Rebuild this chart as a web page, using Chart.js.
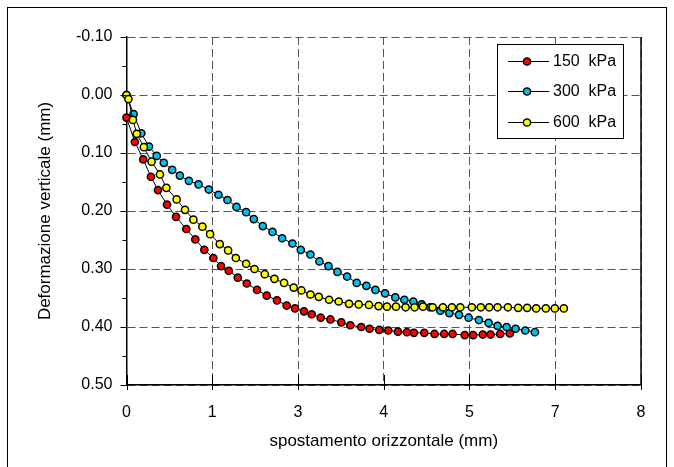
<!DOCTYPE html>
<html>
<head>
<meta charset="utf-8">
<script src="https://cdn.jsdelivr.net/npm/chart.js@4.4.0/dist/chart.umd.min.js"></script>
<style>
  html, body { margin: 0; padding: 0; background: #fff; }
  canvas { display: block; }
</style>
</head>
<body>
<canvas id="chart" width="674" height="467"></canvas>
<script>
// 150 kPa
const x150 = [0, 0.13, 0.26, 0.38, 0.49, 0.63, 0.77, 0.93, 1.07, 1.21, 1.35, 1.47, 1.59, 1.73, 1.87, 2.03, 2.18, 2.34, 2.49, 2.62,
    2.76, 2.88, 3.02, 3.17, 3.34, 3.48, 3.65, 3.78, 3.93, 4.07, 4.22, 4.36, 4.47, 4.63, 4.79, 4.94, 5.07, 5.26, 5.39, 5.54,
    5.66, 5.81, 5.96];
const y150 = [0.039, 0.081, 0.111, 0.141, 0.164, 0.189, 0.210, 0.231, 0.249, 0.267, 0.281, 0.295, 0.303, 0.315, 0.325, 0.336, 0.346, 0.354, 0.363, 0.368,
    0.373, 0.378, 0.384, 0.387, 0.392, 0.397, 0.400, 0.403, 0.405, 0.406, 0.408, 0.409, 0.410, 0.410, 0.412, 0.412, 0.412, 0.414, 0.414, 0.413,
    0.413, 0.412, 0.411];

// 300 kPa
const x300 = [0, 0.11, 0.23, 0.35, 0.47, 0.58, 0.71, 0.83, 0.97, 1.12, 1.28, 1.43, 1.57, 1.71, 1.86, 1.98, 2.12, 2.27, 2.42, 2.58,
    2.71, 2.86, 3.00, 3.14, 3.28, 3.43, 3.58, 3.73, 3.87, 4.02, 4.18, 4.32, 4.46, 4.59, 4.72, 4.88, 5.02, 5.17, 5.32, 5.48,
    5.63, 5.77, 5.91, 6.05, 6.20, 6.35];
const y300 = [0, 0.033, 0.066, 0.089, 0.105, 0.117, 0.129, 0.139, 0.148, 0.154, 0.163, 0.172, 0.181, 0.193, 0.202, 0.214, 0.226, 0.236, 0.247, 0.256,
    0.267, 0.275, 0.287, 0.295, 0.305, 0.313, 0.324, 0.329, 0.336, 0.342, 0.349, 0.353, 0.356, 0.361, 0.366, 0.372, 0.376, 0.379, 0.384, 0.388,
    0.393, 0.398, 0.400, 0.403, 0.406, 0.409];

// 600 kPa
const x600 = [0, 0.03, 0.10, 0.16, 0.27, 0.39, 0.52, 0.62, 0.78, 0.91, 1.04, 1.18, 1.30, 1.45, 1.58, 1.70, 1.86, 1.99, 2.15, 2.30,
    2.45, 2.60, 2.72, 2.86, 2.99, 3.15, 3.30, 3.46, 3.61, 3.77, 3.92, 4.05, 4.19, 4.34, 4.48, 4.61, 4.76, 4.92, 5.06, 5.19,
    5.37, 5.51, 5.64, 5.77, 5.93, 6.09, 6.23, 6.37, 6.52, 6.66, 6.80];
const y600 = [0, 0.007, 0.043, 0.067, 0.090, 0.115, 0.137, 0.160, 0.180, 0.198, 0.215, 0.227, 0.240, 0.257, 0.268, 0.281, 0.291, 0.300, 0.309, 0.317,
    0.324, 0.332, 0.337, 0.344, 0.348, 0.353, 0.356, 0.360, 0.361, 0.362, 0.364, 0.365, 0.365, 0.366, 0.366, 0.365, 0.366, 0.366, 0.366, 0.366,
    0.366, 0.366, 0.366, 0.366, 0.366, 0.367, 0.367, 0.368, 0.368, 0.368, 0.368];

const seriesLabels = ['150  kPa', '300  kPa', '600  kPa'];
const seriesColors = ['#ff0000', '#00c0ee', '#ffff00'];

const xTickValues = [0, 1.3333, 2.6667, 4, 5.3333, 6.6667, 8];
const xTickLabels = ['0', '1', '3', '4', '5', '7', '8'];
const yTickValues = [-0.1, 0, 0.1, 0.2, 0.3, 0.4, 0.5];

const FONT = 'Liberation Sans, Arial, sans-serif';

function toPoints(xs, ys) {
    return xs.map((x, i) => ({ x: x, y: ys[i] }));
}

const seriesData = [toPoints(x150, y150), toPoints(x300, y300), toPoints(x600, y600)];

const datasets = seriesData.map((data, i) => ({
    label: seriesLabels[i],
    data: data,
    showLine: true,
    borderColor: '#000',
    borderWidth: 1,
    pointRadius: 3.6,
    pointBorderWidth: 1.5,
    pointBorderColor: '#000',
    pointBackgroundColor: seriesColors[i],
    clip: false,
    order: 2 - i
}));

// frame, right border, tick marks and the boxed legend
const decorations = {
    id: 'decorations',
    afterDraw(chart) {
        const { ctx, chartArea: a, scales } = chart;
        const xs = scales.x, ys = scales.y;
        ctx.save();
        ctx.strokeStyle = '#000';

        // outer frame
        ctx.lineWidth = 1;
        ctx.strokeRect(7.5, 7.5, 659, 470);

        // solid right edge of plot
        ctx.lineWidth = 1.5;
        ctx.beginPath();
        ctx.moveTo(a.right, a.top);
        ctx.lineTo(a.right, a.bottom);
        ctx.stroke();

        // y ticks, major + minor
        ctx.lineWidth = 1;
        ctx.beginPath();
        for (let i = 0; i < yTickValues.length; i++) {
            const py = Math.round(ys.getPixelForValue(yTickValues[i])) + 0.5;
            ctx.moveTo(a.left - 6, py);
            ctx.lineTo(a.left, py);
            if (i < yTickValues.length - 1) {
                const my = Math.round(ys.getPixelForValue((yTickValues[i] + yTickValues[i + 1]) / 2)) + 0.5;
                ctx.moveTo(a.left - 4, my);
                ctx.lineTo(a.left, my);
            }
        }
        // x ticks crossing the axis
        xTickValues.forEach((v) => {
            const px = Math.round(xs.getPixelForValue(v)) + 0.5;
            ctx.moveTo(px, a.bottom - 10);
            ctx.lineTo(px, a.bottom + 5);
        });
        ctx.stroke();

        // legend
        const box = { left: 497.5, top: 44.5, width: 126, height: 94 };
        ctx.fillStyle = '#fff';
        ctx.fillRect(box.left, box.top, box.width, box.height);
        ctx.strokeRect(box.left, box.top, box.width, box.height);
        const rows = [61, 91, 122];
        ctx.font = '16px ' + FONT;
        ctx.textBaseline = 'middle';
        ctx.textAlign = 'left';
        seriesLabels.forEach((label, i) => {
            const y = rows[i] + 0.5;
            ctx.beginPath();
            ctx.moveTo(508, y);
            ctx.lineTo(549, y);
            ctx.lineWidth = 1;
            ctx.stroke();
            ctx.beginPath();
            ctx.arc(527, y, 3.6, 0, Math.PI * 2);
            ctx.fillStyle = seriesColors[i];
            ctx.fill();
            ctx.lineWidth = 1.5;
            ctx.stroke();
            ctx.fillStyle = '#000';
            ctx.fillText(label, 553, rows[i] + 1);
        });
        ctx.restore();
    }
};

new Chart(document.getElementById('chart'), {
    type: 'scatter',
    data: { datasets: datasets },
    options: {
        responsive: false,
        animation: false,
        events: [],
        layout: { padding: { top: 37, right: 33, left: 0, bottom: 0 } },
        plugins: {
            legend: { display: false },
            tooltip: { enabled: false }
        },
        scales: {
            x: {
                type: 'linear',
                min: 0,
                max: 8,
                afterBuildTicks: (scale) => { scale.ticks = xTickValues.map(v => ({ value: v })); },
                afterFit: (scale) => { scale.height = 82; },
                ticks: {
                    padding: 18,
                    color: '#000',
                    font: { family: FONT, size: 16 },
                    maxRotation: 0,
                    autoSkip: false,
                    callback: (v, i) => xTickLabels[i]
                },
                grid: { color: '#555', lineWidth: 1, drawTicks: false },
                border: { color: '#000', width: 1.5, dash: [8, 4] },
                title: {
                    display: true,
                    text: 'spostamento orizzontale (mm)',
                    color: '#000',
                    font: { family: FONT, size: 17 },
                    padding: { top: 0, bottom: 15 }
                }
            },
            y: {
                type: 'linear',
                reverse: true,
                min: -0.1,
                max: 0.5,
                afterBuildTicks: (scale) => { scale.ticks = yTickValues.map(v => ({ value: v })); },
                afterFit: (scale) => { scale.width = 126.5; },
                ticks: {
                    padding: 14,
                    color: '#000',
                    font: { family: FONT, size: 16 },
                    autoSkip: false,
                    callback: (v) => v.toFixed(2)
                },
                grid: { color: '#555', lineWidth: 1, drawTicks: false },
                border: { color: '#000', width: 1.5, dash: [8, 4] },
                title: {
                    display: true,
                    text: 'Deformazione verticale (mm)',
                    color: '#000',
                    font: { family: FONT, size: 17 },
                    padding: { top: 35, bottom: 0 }
                }
            }
        }
    },
    plugins: [decorations]
});
</script>
</body>
</html>
